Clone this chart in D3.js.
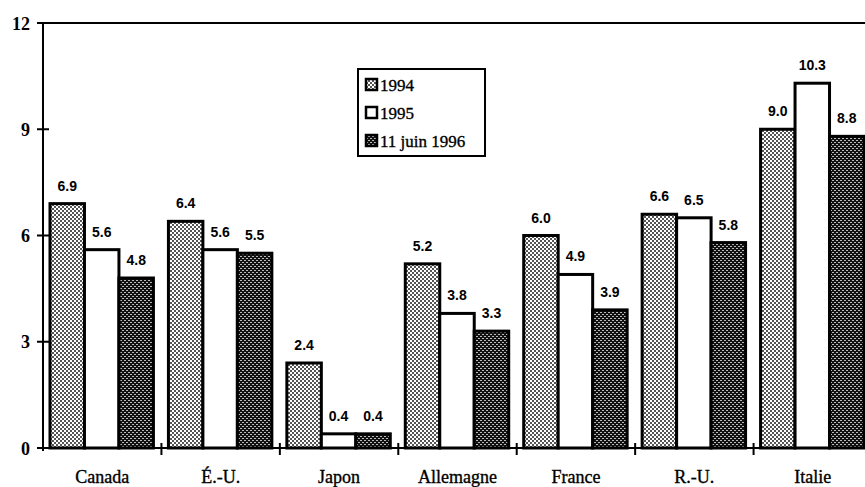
<!DOCTYPE html>
<html><head><meta charset="utf-8">
<script src="https://cdn.jsdelivr.net/npm/d3@7"></script>
<style>body{margin:0;background:#fff}svg{display:block}</style>
</head><body>
<svg id="c" width="865" height="487"></svg>
<script>
const categories = ["Canada", "É.-U.", "Japon", "Allemagne", "France", "R.-U.", "Italie"];
const seriesNames = ["1994", "1995", "11 juin 1996"];
const values1994 = [6.9, 6.4, 2.4, 5.2, 6.0, 6.6, 9.0];
const values1995 = [5.6, 5.6, 0.4, 3.8, 4.9, 6.5, 10.3];
const values1996 = [4.8, 5.5, 0.4, 3.3, 3.9, 5.8, 8.8];
const yTicks = [0, 3, 6, 9, 12];

const series = [values1994, values1995, values1996];
const svg = d3.select("#c");
const defs = svg.append("defs");
const p1 = defs.append("pattern").attr("id","p1").attr("width",4).attr("height",4).attr("patternUnits","userSpaceOnUse");
p1.append("rect").attr("width",4).attr("height",4).attr("fill","#fff");
p1.append("rect").attr("width",2).attr("height",2).attr("fill","#555");
p1.append("rect").attr("x",2).attr("y",2).attr("width",2).attr("height",2).attr("fill","#555");
const p3 = defs.append("pattern").attr("id","p3").attr("width",4).attr("height",4).attr("patternUnits","userSpaceOnUse");
p3.append("rect").attr("width",4).attr("height",4).attr("fill","#111");
p3.append("rect").attr("x",0).attr("y",0).attr("width",2).attr("height",1).attr("fill","#bbb");
p3.append("rect").attr("x",2).attr("y",2).attr("width",2).attr("height",1).attr("fill","#bbb");
const fills = ["url(#p1)", "#fff", "url(#p3)"];

const x0 = 43, x1 = 872, y0 = 448, y1 = 23;
const xb = d3.scaleBand().domain(categories).range([x0, x1]);
const xs = d3.scaleBand().domain(d3.range(3)).range([7, xb.bandwidth() - 8]);
const y = d3.scaleLinear().domain([0, 12]).range([y0, y1]);
const serif = "Liberation Serif, Times New Roman, serif";

const g = svg.append("g");
categories.forEach((c, i) => {
  series.forEach((s, k) => {
    g.append("rect")
      .attr("x", xb(c) + xs(k))
      .attr("width", xs.bandwidth())
      .attr("y", y(s[i]))
      .attr("height", y(0) - y(s[i]))
      .attr("fill", fills[k]).attr("stroke", "#000").attr("stroke-width", 3);
    g.append("text")
      .attr("x", xb(c) + xs(k) + xs.bandwidth() / 2)
      .attr("y", y(s[i]) - 13)
      .attr("text-anchor", "middle")
      .attr("font-family", "Liberation Sans, Arial, sans-serif")
      .attr("font-weight", "bold").attr("font-size", 14)
      .text(s[i].toFixed(1));
  });
});

const ax = svg.append("g").attr("stroke", "#000").attr("stroke-width", 2);
ax.append("line").attr("x1", x0).attr("x2", x0).attr("y1", y1).attr("y2", y0 + 3);
ax.append("line").attr("x1", x0 - 6).attr("x2", 865).attr("y1", y0).attr("y2", y0);
ax.append("line").attr("x1", x0 - 6).attr("x2", 865).attr("y1", y1).attr("y2", y1);
yTicks.forEach(t => {
  ax.append("line").attr("x1", x0 - 6).attr("x2", x0 + 6).attr("y1", y(t)).attr("y2", y(t));
  svg.append("text").attr("x", 30).attr("y", y(t) + 6.5).attr("text-anchor", "end")
    .attr("font-family", serif).attr("font-weight", "bold")
    .attr("font-size", 18).text(t);
});
categories.forEach((c, i) => {
  if (i > 0) ax.append("line").attr("x1", xb(c)).attr("x2", xb(c)).attr("y1", y0 - 5).attr("y2", y0 + 7);
  svg.append("text").attr("x", xb(c) + xb.bandwidth() / 2).attr("y", 483).attr("text-anchor", "middle")
    .attr("font-family", serif).attr("font-size", 18)
    .attr("stroke", "#000").attr("stroke-width", 0.35).text(c);
});

const lg = svg.append("g");
lg.append("rect").attr("x", 358).attr("y", 69).attr("width", 127).attr("height", 87)
  .attr("fill", "#fff").attr("stroke", "#000").attr("stroke-width", 2);
seriesNames.forEach((n, k) => {
  const yy = 79 + k * 28;
  lg.append("rect").attr("x", 366).attr("y", yy).attr("width", 11).attr("height", 11)
    .attr("fill", fills[k]).attr("stroke", "#000").attr("stroke-width", 2.5);
  lg.append("text").attr("x", 380).attr("y", yy + 11.5).attr("font-family", serif)
    .attr("font-size", 17).attr("stroke", "#000").attr("stroke-width", 0.35).text(n);
});
</script>
</body></html>
